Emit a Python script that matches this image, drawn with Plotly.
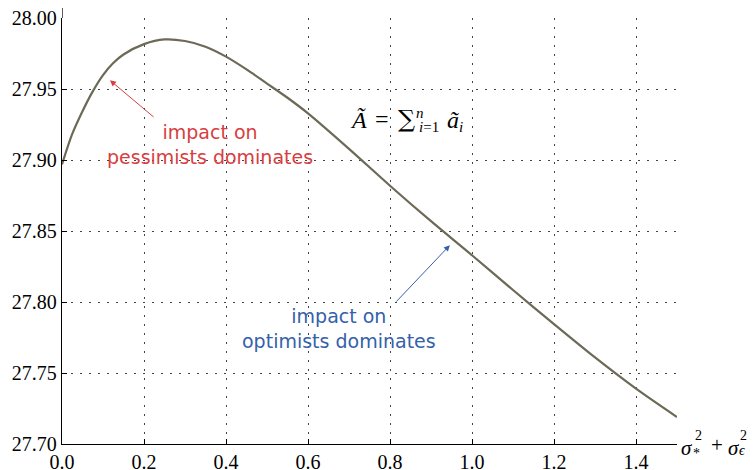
import plotly.graph_objects as go

# Data
x_vals = [0.0, 0.025, 0.05, 0.075, 0.1, 0.125, 0.15, 0.2, 0.25, 0.3, 0.35, 0.4, 0.45,
          0.5, 0.55, 0.6, 0.7, 0.8, 0.9, 1.0, 1.1, 1.2, 1.3, 1.4, 1.5]
y_vals = [27.897, 27.9185, 27.9345, 27.9485, 27.960, 27.9685, 27.9745, 27.9818, 27.9851,
          27.984, 27.980, 27.973, 27.964, 27.954, 27.944, 27.933, 27.908, 27.882,
          27.857, 27.833, 27.8085, 27.7845, 27.761, 27.739, 27.719]
x_ticks = [0.0, 0.2, 0.4, 0.6, 0.8, 1.0, 1.2, 1.4]
x_ticklabels = ["0.0", "0.2", "0.4", "0.6", "0.8", "1.0", "1.2", "1.4"]
y_ticks = [27.70, 27.75, 27.80, 27.85, 27.90, 27.95, 28.00]
y_ticklabels = ["27.70", "27.75", "27.80", "27.85", "27.90", "27.95", "28.00"]

SERIF = "Liberation Serif"
SANS = "DejaVu Sans"
RED = "#d7403f"
BLUE = "#3461aa"

# page body has an 8px default margin; plot area should be at x 62..677, y 18..444
PAGE = 8
PL, PR, PT, PB = 62, 677, 18, 444
W, H = 755 - PAGE, 470 - PAGE


def px(xp):
    return (xp - PL) / (PR - PL)


def py(yp):
    return (PB - yp) / (PB - PT)


fig = go.Figure()
fig.add_trace(go.Scatter(x=x_vals, y=y_vals, mode="lines", line_shape="spline",
                         line=dict(color="#6c6a56", width=2.2, smoothing=0.8),
                         hoverinfo="skip", showlegend=False))


def axis(**kw):
    d = dict(showgrid=True, gridcolor="#444444", gridwidth=1, griddash="2px,7px",
             showline=True, linecolor="black", linewidth=1.3,
             ticks="inside", ticklen=5, tickcolor="black", tickwidth=1,
             zeroline=False, mirror=False, automargin=False,
             ticklabeloverflow="allow",
             tickfont=dict(family=SERIF, size=20, color="black"))
    d.update(kw)
    return d


fig.update_layout(
    width=W, height=H,
    margin=dict(l=PL - PAGE, r=W - (PR - PAGE), t=PT - PAGE, b=H - (PB - PAGE), autoexpand=False),
    plot_bgcolor="white", paper_bgcolor="white",
    xaxis=axis(range=[0, 1.5], tickvals=x_ticks, ticktext=x_ticklabels),
    yaxis=axis(range=[27.70, 28.0002], tickvals=y_ticks, ticktext=y_ticklabels),
)

# short extension of the y axis line above the top
fig.add_shape(type="line", xref="x", yref="paper", x0=0, x1=0, y0=1, y1=py(7),
              line=dict(color="black", width=1.3))

# Red annotation
fig.add_annotation(x=0.117, y=27.9563, ax=0.227, ay=27.9296, xref="x", yref="y",
                   axref="x", ayref="y", text="", showarrow=True, arrowhead=2,
                   arrowsize=1.2, arrowwidth=1, arrowcolor=RED)
fig.add_annotation(x=px(210), y=py(144), xref="paper", yref="paper", showarrow=False,
                   xanchor="center", yanchor="middle",
                   text="impact on<br>pessimists dominates", align="center",
                   font=dict(family=SANS, size=19, color=RED))

# Blue annotation
fig.add_annotation(x=0.946, y=27.8401, ax=0.812, ay=27.7993, xref="x", yref="y",
                   axref="x", ayref="y", text="", showarrow=True, arrowhead=2,
                   arrowsize=1.2, arrowwidth=1, arrowcolor=BLUE)
fig.add_annotation(x=px(339), y=py(328), xref="paper", yref="paper", showarrow=False,
                   xanchor="center", yanchor="middle",
                   text="impact on<br>optimists dominates", align="center",
                   font=dict(family=SANS, size=19, color=BLUE))


def txt(text, x, y, size, anchor="center", family=SERIF):
    fig.add_annotation(x=px(x), y=py(y), xref="paper", yref="paper", showarrow=False,
                       xanchor=anchor, yanchor="middle", text=text, borderpad=0,
                       font=dict(family=family, size=size, color="black"))


# Formula  Ã = Σ_{i=1}^{n} ã_i  (stacked limits)
txt("<i>Ã</i>", 358.5, 120, 24)
txt("=", 381.5, 119, 24)
txt("∑", 406.5, 119, 24, family="DejaVu Serif")
txt("<i>n</i>", 420, 113, 15)
txt("<i>i</i>=1", 429, 127, 15)
txt("<i>ã</i>", 453, 120, 24)
txt("<i>i</i>", 461.5, 127, 15)

# x-axis label  σ*^2 + σε^2  (stacked indices)
txt("<i>σ</i>", 687, 448, 21)
txt("2", 698, 435, 14)
txt("*", 696.5, 453, 14)
txt("+", 716.5, 445, 21)
txt("<i>σ</i>", 734, 448, 21)
txt("2", 743.5, 435, 14)
txt("<i>ϵ</i>", 742.5, 451, 14)

fig.write_html("out.html")
